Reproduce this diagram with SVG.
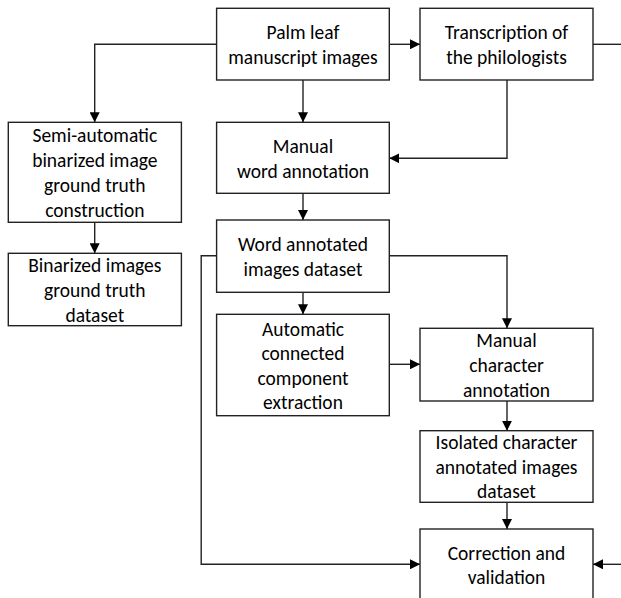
<svg xmlns="http://www.w3.org/2000/svg" width="621" height="598" viewBox="0 0 621 598">
<defs>
<marker id="ah" viewBox="0 0 10 10" refX="10" refY="5" markerWidth="10" markerHeight="10" markerUnits="userSpaceOnUse" orient="auto">
<path d="M0,0 L10,5 L0,10 Z" fill="#000"/>
</marker>
</defs>
<style>
.box{fill:#fff;stroke:#222;stroke-width:1.4}
.t{font-family:Carlito,Lato,"Liberation Sans",sans-serif;font-size:19.5px;fill:#000;text-anchor:middle;dominant-baseline:central}
.c{fill:none;stroke:#222;stroke-width:1.4}
</style>
<rect width="621" height="598" fill="#fff"/>
<g id="connectors">
<path class="c" d="M389.3,44.3 H420" marker-end="url(#ah)"/>
<path class="c" d="M593,44.3 H621"/>
<path class="c" d="M216.6,44.3 H94.7 V122.3" marker-end="url(#ah)"/>
<path class="c" d="M303,80 V122.3" marker-end="url(#ah)"/>
<path class="c" d="M507,80 V158.3 H389.3" marker-end="url(#ah)"/>
<path class="c" d="M303,193.3 V220" marker-end="url(#ah)"/>
<path class="c" d="M94.7,222.3 V253.3" marker-end="url(#ah)"/>
<path class="c" d="M216.6,255.7 H201.2 V564.3 H420" marker-end="url(#ah)"/>
<path class="c" d="M389.3,255.7 H507 V328.3" marker-end="url(#ah)"/>
<path class="c" d="M303,292.3 V314.3" marker-end="url(#ah)"/>
<path class="c" d="M389.3,364.3 H420" marker-end="url(#ah)"/>
<path class="c" d="M507,401 V430.7" marker-end="url(#ah)"/>
<path class="c" d="M507,502.3 V529" marker-end="url(#ah)"/>
<path class="c" d="M621,564.3 H593" marker-end="url(#ah)"/>
</g>
<g id="palm">
<rect class="box" x="216.6" y="8.3" width="172.7" height="71.7"/>
<text class="t" x="303" y="31.5">Palm leaf</text>
<text class="t" x="303" y="56.5">manuscript images</text>
</g>
<g id="transcription">
<rect class="box" x="420" y="8.3" width="173" height="71.7"/>
<text class="t" x="506.5" y="31.5">Transcription of</text>
<text class="t" x="506.5" y="56.5">the philologists</text>
</g>
<g id="semi">
<rect class="box" x="8.3" y="122.3" width="173.1" height="100"/>
<text class="t" x="94.8" y="134.5">Semi-automatic</text>
<text class="t" x="94.8" y="159.5">binarized image</text>
<text class="t" x="94.8" y="184.5">ground truth</text>
<text class="t" x="94.8" y="209.5">construction</text>
</g>
<g id="binarized">
<rect class="box" x="8.3" y="253.3" width="173.1" height="72.4"/>
<text class="t" x="94.8" y="265">Binarized images</text>
<text class="t" x="94.8" y="290">ground truth</text>
<text class="t" x="94.8" y="315">dataset</text>
</g>
<g id="manualword">
<rect class="box" x="216.6" y="122.3" width="172.7" height="71"/>
<text class="t" x="303" y="146">Manual</text>
<text class="t" x="303" y="171">word annotation</text>
</g>
<g id="wordannotated">
<rect class="box" x="216.6" y="220" width="172.7" height="72.3"/>
<text class="t" x="303" y="243.5">Word annotated</text>
<text class="t" x="303" y="268.5">images dataset</text>
</g>
<g id="automatic">
<rect class="box" x="216.6" y="314.3" width="172.7" height="101.4"/>
<text class="t" x="303" y="328.5">Automatic</text>
<text class="t" x="303" y="353">connected</text>
<text class="t" x="303" y="377.5">component</text>
<text class="t" x="303" y="402">extraction</text>
</g>
<g id="manualchar">
<rect class="box" x="420" y="328.3" width="173" height="72.7"/>
<text class="t" x="506.5" y="340">Manual</text>
<text class="t" x="506.5" y="365">character</text>
<text class="t" x="506.5" y="390">annotation</text>
</g>
<g id="isolated">
<rect class="box" x="420" y="430.7" width="173" height="71.6"/>
<text class="t" x="506.5" y="442">Isolated character</text>
<text class="t" x="506.5" y="466.5">annotated images</text>
<text class="t" x="506.5" y="491">dataset</text>
</g>
<g id="correction">
<rect class="box" x="420" y="529" width="173" height="80"/>
<text class="t" x="506.5" y="552.7">Correction and</text>
<text class="t" x="506.5" y="576.7">validation</text>
</g>
</svg>
